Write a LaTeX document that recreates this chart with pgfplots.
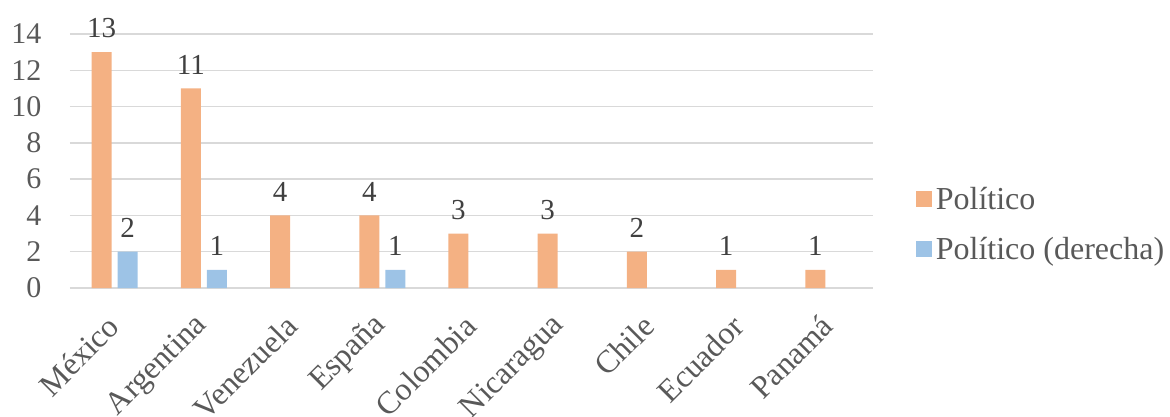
\documentclass[border=0pt]{standalone}
\usepackage{fontspec}
\setmainfont{Liberation Serif}
\usepackage{pgfplots}
\pgfplotsset{compat=1.18}
\definecolor{barO}{HTML}{F4B183}
\definecolor{barB}{HTML}{9DC3E6}
\definecolor{gridc}{HTML}{D9D9D9}
\definecolor{txt}{HTML}{595959}
\definecolor{lbl}{HTML}{404040}
\begin{document}
\begin{tikzpicture}[x=1pt,y=1pt]
\begin{axis}[
  at={(0,0)}, anchor=south west,
  scale only axis, width=803pt, height=254pt,
  ymin=0, ymax=14, ytick={0,2,...,14},
  xmin=-0.5, xmax=8.5, xtick={0,...,8},
  xticklabels={México,Argentina,Venezuela,España,Colombia,Nicaragua,Chile,Ecuador,Panamá},
  ymajorgrids, grid style={gridc, line width=1.5pt},
  axis line style={draw=none}, major tick length=0pt,
  tick label style={font=\fontsize{30}{34}\selectfont, text=txt},
  yticklabel style={xshift=-25pt},
  xticklabel style={inner sep=0pt, xshift=-1pt, yshift=-33pt, rotate=45, anchor=east, font=\fontsize{32}{36}\selectfont},
  /pgf/number format/assume math mode=true,
  ybar=6pt, bar width=20pt,
  nodes near coords,
  every node near coord/.append style={font=\fontsize{29}{33}\selectfont, text=lbl, inner sep=0pt, yshift=14pt},
  legend style={draw=none, at={(1.05,0.252)}, anchor=west, font=\fontsize{32}{36}\selectfont, text=txt, row sep=19pt, nodes={inner sep=3.5pt}},
  legend cell align=left,
]
\addplot[fill=barO, draw=none, legend image code/.code={\fill[barO] (0pt,-8pt) rectangle (16pt,8pt);}]
  coordinates {(0,13) (1,11) (2,4) (3,4) (4,3) (5,3) (6,2) (7,1) (8,1)};
\addlegendentry{Político}
\addplot[fill=barB, draw=none, legend image code/.code={\fill[barB] (0pt,-8pt) rectangle (16pt,8pt);}]
  coordinates {(0,2) (1,1) (3,1)};
\addlegendentry{Político (derecha)}
\end{axis}
\pgfresetboundingbox
\useasboundingbox (-70,-128) rectangle (1100,288);
\end{tikzpicture}
\end{document}
